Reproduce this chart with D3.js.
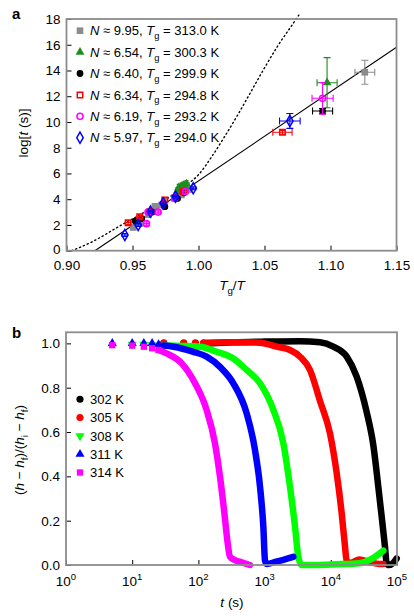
<!DOCTYPE html>
<html><head><meta charset="utf-8">
<script src="https://cdn.jsdelivr.net/npm/d3@7"></script>
<style>body{margin:0;background:#fff}svg{display:block;font-family:"Liberation Sans",Arial,sans-serif}</style>
</head><body><svg id="c" width="414" height="616"></svg>
<script>
// ---------- Panel a data ----------
const aXTicks = [0.90, 0.95, 1.00, 1.05, 1.10, 1.15];
const aYTicks = [0, 2, 4, 6, 8, 10, 12, 14, 16, 18];
const nValues = ["9.95", "6.54", "6.40", "6.34", "6.19", "5.97"];
const tgValues = ["313.0", "300.3", "299.9", "294.8", "293.2", "294.0"];
const colorsA = ["#8c8c8c", "#1e8c1e", "#000000", "#ff0000", "#ff00ff", "#0000ff"];

const grayX  = [0.9505, 0.9555, 0.962, 0.967, 0.972, 0.9833, 0.987, 0.9934, 1.126];
const grayY  = [1.8, 2.1, 2.8, 3.45, 3.55, 4.2, 4.33, 4.75, 13.86];
const grayXe = [0.002, 0.002, 0.002, 0.002, 0.002, 0.002, 0.002, 0.002, 0.0075];
const grayYe = [0.15, 0.15, 0.15, 0.15, 0.15, 0.15, 0.15, 0.15, 0.93];

const greenX  = [0.984, 0.985, 0.986, 0.987, 0.988, 0.989, 0.990, 0.991, 1.0974];
const greenY  = [4.65, 4.9, 4.7, 5.0, 4.8, 5.1, 4.95, 5.2, 13.05];
const greenXe = [0.001, 0.001, 0.001, 0.001, 0.001, 0.001, 0.001, 0.001, 0.0076];
const greenYe = [0.25, 0.25, 0.25, 0.25, 0.25, 0.25, 0.25, 0.25, 1.95];

const blackX  = [0.952, 0.957, 0.965, 0.9745, 0.984, 0.989, 1.094];
const blackY  = [2.3, 2.5, 3.0, 3.42, 4.05, 4.5, 10.85];
const blackXe = [0.002, 0.002, 0.002, 0.002, 0.002, 0.002, 0.0076];
const blackYe = [0.15, 0.15, 0.15, 0.15, 0.15, 0.15, 0.2];

const redX  = [0.9467, 0.9555, 0.9632, 0.9745, 0.982, 0.9884, 1.0636];
const redY  = [2.18, 2.64, 3.03, 3.94, 4.1, 4.58, 9.2];
const redXe = [0.002, 0.002, 0.002, 0.002, 0.002, 0.002, 0.0073];
const redYe = [0.15, 0.15, 0.15, 0.15, 0.15, 0.15, 0.15];

const magX  = [0.9606, 0.9618, 0.9694, 0.982, 0.990, 1.094];
const magY  = [2.1, 3.0, 3.0, 4.07, 4.6, 11.84];
const magXe = [0.002, 0.002, 0.002, 0.002, 0.002, 0.008];
const magYe = [0.15, 0.15, 0.15, 0.15, 0.15, 1.23];

const blueX  = [0.9442, 0.9543, 0.9636, 0.9732, 0.9826, 0.996, 1.0692];
const blueY  = [1.22, 2.0, 3.03, 3.68, 4.2, 4.85, 10.08];
const blueXe = [0.002, 0.002, 0.002, 0.002, 0.002, 0.002, 0.0078];
const blueYe = [0.12, 0.12, 0.12, 0.12, 0.12, 0.12, 0.58];

const fitX = [0.9215, 1.15];
const fitY = [0, 15.8];
const dotX = [0.904, 0.92, 0.94, 0.96, 0.98, 0.99, 1.00, 1.01, 1.02, 1.03, 1.04, 1.05, 1.06, 1.07, 1.076];
const dotY = [0, 0.72, 1.9, 3.05, 4.3, 5.05, 5.9, 7.3, 8.9, 10.6, 12.4, 14.2, 15.9, 17.4, 18.3];

// ---------- Panel b data ----------
const bXExponents = [0, 1, 2, 3, 4, 5];
const bYTicks = [0.0, 0.2, 0.4, 0.6, 0.8, 1.0];
const bLabels = ["302 K", "305 K", "308 K", "311 K", "314 K"];
const colorsB = ["#000000", "#ff0000", "#00ff00", "#0000ff", "#ff00ff"];

const k302MarkT = [30, 60, 90, 120];
const k302MarkV = [1.0, 1.0, 1.0, 1.0];
const k302T = [130, 337, 1000, 3430, 6870, 10900, 17400, 24600, 34800, 43900, 52200, 58700, 65800, 69700, 75000, 88000, 99000];
const k302V = [1.0, 1.005, 1.008, 1.01, 1.005, 0.985, 0.94, 0.85, 0.69, 0.54, 0.353, 0.218, 0.083, 0.008, 0.0, 0.01, 0.03];

const k305MarkT = [30, 60, 90, 120];
const k305MarkV = [1.003, 1.003, 1.003, 1.003];
const k305T = [130, 337, 853, 1523, 2420, 3430, 4850, 6870, 9720, 12280, 14600, 16400, 17400, 20000, 27000, 40000, 54200, 62000];
const k305V = [1.003, 1.005, 1.003, 0.985, 0.97, 0.94, 0.88, 0.74, 0.594, 0.414, 0.234, 0.083, 0.015, 0.01, 0.025, 0.012, 0.005, 0.005];

const k308MarkT = [10, 15, 20, 25];
const k308MarkV = [0.995, 0.995, 0.993, 0.99];
const k308T = [30, 106, 189, 337, 536, 853, 1355, 1920, 2420, 2880, 3235, 3630, 6000, 12000, 27000, 40000, 62100];
const k308V = [0.99, 0.985, 0.962, 0.932, 0.88, 0.82, 0.70, 0.549, 0.353, 0.173, 0.037, 0.0, 0.0, 0.003, 0.008, 0.025, 0.065];

const k311MarkT = [5, 10, 15, 20, 25];
const k311MarkV = [1.0, 1.0, 1.0, 1.0, 0.995];
const k311T = [30, 42, 84, 133, 212, 337, 536, 716, 853, 957, 1014, 1070, 1500, 2716];
const k311V = [0.99, 0.985, 0.962, 0.94, 0.894, 0.82, 0.684, 0.519, 0.353, 0.173, 0.02, 0.005, 0.015, 0.037];

const k314MarkT = [5, 10, 15, 20, 25];
const k314MarkV = [0.992, 0.99, 0.985, 0.978, 0.97];
const k314T = [25, 33, 56, 89, 133, 178, 212, 244, 277, 300, 357, 450, 600];
const k314V = [0.97, 0.955, 0.91, 0.82, 0.70, 0.549, 0.398, 0.248, 0.098, 0.037, 0.022, 0.012, 0.0];

// ---------- drawing ----------
const svg = d3.select("#c");
const FRAME = "#8c8c8c";

function richText(g, x, y, parts, size, anchor) {
  const t = g.append("text").attr("x", x).attr("y", y).attr("font-size", size)
    .attr("text-anchor", anchor || "start").attr("fill", "#000");
  let shifted = 0;
  parts.forEach(p => {
    const ts = t.append("tspan").text(p.t);
    if (p.i) ts.attr("font-style", "italic");
    if (p.sub) { ts.attr("dy", size * 0.3 - shifted).attr("font-size", size * 0.72); shifted = size * 0.3; }
    else if (p.sup) { ts.attr("dy", -size * 0.4 - shifted).attr("font-size", size * 0.72); shifted = -size * 0.4; }
    else if (shifted !== 0) { ts.attr("dy", -shifted); shifted = 0; }
  });
  return t;
}

// ======== Panel a ========
const xA = d3.scaleLinear().domain([0.90, 1.15]).range([66.5, 396.5]);
const yA = d3.scaleLinear().domain([0, 18]).range([250.7, 19]);
const gA = svg.append("g");

gA.append("g").attr("transform", "translate(0,250.7)")
  .call(d3.axisBottom(xA).tickValues(aXTicks).tickFormat(d3.format(".2f")).tickSizeInner(-5).tickSizeOuter(0).tickPadding(10))
  .call(g => { g.select(".domain").remove(); g.selectAll("line").attr("stroke", "#000");
    g.selectAll("text").attr("font-size", 13.5).attr("font-family", null); });
gA.append("g").attr("transform", "translate(66.5,0)")
  .call(d3.axisLeft(yA).tickValues(aYTicks).tickSizeInner(-5).tickSizeOuter(0).tickPadding(6))
  .call(g => { g.select(".domain").remove(); g.selectAll("line").attr("stroke", "#000");
    g.selectAll("text").attr("font-size", 13.5).attr("font-family", null)
      .attr("dy", d => d === 0 ? "0.2em" : "0.32em"); });

const plotA = gA.append("g");
// fit line and dotted curve
const lineA = d3.line().x(d => xA(d[0])).y(d => yA(d[1]));
plotA.append("path").attr("d", lineA(d3.zip(fitX, fitY))).attr("fill", "none").attr("stroke", "#000").attr("stroke-width", 1.1);
plotA.append("path").attr("d", lineA.curve(d3.curveMonotoneX)(d3.zip(dotX, dotY)))
  .attr("fill", "none").attr("stroke", "#000").attr("stroke-width", 1.4).attr("stroke-dasharray", "1.2,3").attr("stroke-linecap", "round");

const seriesA = [
  { x: grayX, y: grayY, xe: grayXe, ye: grayYe, sym: d3.symbolSquare, size: 44, fill: true },
  { x: greenX, y: greenY, xe: greenXe, ye: greenYe, sym: d3.symbolTriangle, size: 34, fill: true },
  { x: blackX, y: blackY, xe: blackXe, ye: blackYe, sym: d3.symbolCircle, size: 36, fill: true },
  { x: redX, y: redY, xe: redXe, ye: redYe, sym: d3.symbolSquare, size: 30, fill: false },
  { x: magX, y: magY, xe: magXe, ye: magYe, sym: d3.symbolCircle, size: 30, fill: false },
  { x: blueX, y: blueY, xe: blueXe, ye: blueYe, sym: d3.symbolDiamond, size: 36, fill: false }
];
seriesA.forEach((s, si) => {
  const c = colorsA[si];
  const g = plotA.append("g");
  s.x.forEach((xv, i) => {
    const px = xA(xv), py = yA(s.y[i]);
    const x0 = xA(xv - s.xe[i]), x1 = xA(xv + s.xe[i]);
    const y0 = yA(s.y[i] - s.ye[i]), y1 = yA(s.y[i] + s.ye[i]);
    const cap = s.xe[i] > 0.004 ? 3.5 : 2;
    g.append("path").attr("fill", "none").attr("stroke", c).attr("stroke-width", 1.1)
      .attr("d", `M${x0},${py}H${x1}M${x0},${py - cap}V${py + cap}M${x1},${py - cap}V${py + cap}` +
                 `M${px},${y0}V${y1}M${px - cap},${y0}H${px + cap}M${px - cap},${y1}H${px + cap}`);
    g.append("path").attr("transform", `translate(${px},${py})`)
      .attr("d", d3.symbol(s.sym, s.size)())
      .attr("fill", s.fill ? c : "none").attr("stroke", c).attr("stroke-width", s.fill ? 0 : 1.5);
  });
});

// legend a
const legA = gA.append("g");
const legAY = [30.7, 52.1, 73.5, 94.9, 116.3, 137.7];
seriesA.forEach((s, i) => {
  const c = colorsA[i];
  legA.append("path").attr("transform", `translate(80,${legAY[i]})`)
    .attr("d", d3.symbol(s.sym, s.size)())
    .attr("fill", s.fill ? c : "none").attr("stroke", c).attr("stroke-width", s.fill ? 0 : 1.5);
  richText(legA, 90, legAY[i] + 4.6, [
    { t: "N", i: true }, { t: " ≈ " + nValues[i] + ", " }, { t: "T", i: true }, { t: "g", sub: true },
    { t: " = " + tgValues[i] + " K" }], 13);
});

// frame a
gA.append("rect").attr("x", 66.5).attr("y", 19).attr("width", 330).attr("height", 231.7)
  .attr("fill", "none").attr("stroke", FRAME).attr("stroke-width", 1.8);

// labels a
svg.append("text").attr("x", 12).attr("y", 19).attr("font-size", 15).attr("font-weight", "bold").text("a");
richText(svg, 0, 0, [{ t: "log[" }, { t: "t", i: true }, { t: " (s)]" }], 13.5, "middle")
  .attr("transform", "translate(28,133) rotate(-90)");
richText(svg, 232, 290, [{ t: "T", i: true }, { t: "g", sub: true }, { t: "/" }, { t: "T", i: true }], 13.5, "middle");

// ======== Panel b ========
const xB = d3.scaleLog().domain([1, 1e5]).range([66, 397]);
const yB = d3.scaleLinear().domain([0, 1.05]).range([565, 332.3]);
const gB = svg.append("g");

gB.append("g").attr("transform", "translate(0,565)")
  .call(d3.axisBottom(xB).tickValues(bXExponents.map(e => Math.pow(10, e))).tickFormat("").tickSizeInner(-5).tickSizeOuter(0))
  .call(g => { g.select(".domain").remove(); g.selectAll("line").attr("stroke", "#000"); });
bXExponents.forEach(e => {
  const t = gB.append("text").attr("x", xB(Math.pow(10, e))).attr("y", 586).attr("font-size", 13.5).attr("text-anchor", "middle");
  t.append("tspan").text("10");
  t.append("tspan").text(String(e)).attr("font-size", 9.5).attr("dy", -6);
});
gB.append("g").attr("transform", "translate(66,0)")
  .call(d3.axisLeft(yB).tickValues(bYTicks).tickFormat(d3.format(".1f")).tickSizeInner(-5).tickSizeOuter(0).tickPadding(6))
  .call(g => { g.select(".domain").remove(); g.selectAll("line").attr("stroke", "#000");
    g.selectAll("text").attr("font-size", 13.5).attr("font-family", null); });

const seriesB = [
  { mt: k302MarkT, mv: k302MarkV, t: k302T, v: k302V, sym: d3.symbolCircle, size: 40, rot: 0 },
  { mt: k305MarkT, mv: k305MarkV, t: k305T, v: k305V, sym: d3.symbolCircle, size: 40, rot: 0 },
  { mt: k308MarkT, mv: k308MarkV, t: k308T, v: k308V, sym: d3.symbolTriangle, size: 36, rot: 180 },
  { mt: k311MarkT, mv: k311MarkV, t: k311T, v: k311V, sym: d3.symbolTriangle, size: 36, rot: 0 },
  { mt: k314MarkT, mv: k314MarkV, t: k314T, v: k314V, sym: d3.symbolSquare, size: 40, rot: 0 }
];
const lineB = d3.line().x(d => xB(d[0])).y(d => yB(d[1])).curve(d3.curveMonotoneX);
const plotB = gB.append("g");
seriesB.forEach((s, i) => {
  const c = colorsB[i];
  plotB.append("path").attr("d", lineB(d3.zip(s.t, s.v))).attr("fill", "none").attr("stroke", c)
    .attr("stroke-width", 6.5).attr("stroke-linejoin", "round").attr("stroke-linecap", "round");
  s.mt.forEach((tv, j) => {
    plotB.append("path").attr("transform", `translate(${xB(tv)},${yB(s.mv[j])}) rotate(${s.rot})`)
      .attr("d", d3.symbol(s.sym, s.size)()).attr("fill", c);
  });
});

// legend b
const legBY = [399.3, 417.6, 435.9, 454.2, 472.5];
seriesB.forEach((s, i) => {
  gB.append("path").attr("transform", `translate(80,${legBY[i]}) rotate(${s.rot})`)
    .attr("d", d3.symbol(s.sym, s.size)()).attr("fill", colorsB[i]);
  gB.append("text").attr("x", 90).attr("y", legBY[i] + 4.6).attr("font-size", 13).text(bLabels[i]);
});

gB.append("rect").attr("x", 66).attr("y", 332.3).attr("width", 331).attr("height", 232.7)
  .attr("fill", "none").attr("stroke", FRAME).attr("stroke-width", 1.8);

svg.append("text").attr("x", 12).attr("y", 338).attr("font-size", 15).attr("font-weight", "bold").text("b");
richText(svg, 0, 0, [{ t: "(" }, { t: "h", i: true }, { t: " − " }, { t: "h", i: true }, { t: "f", sub: true },
  { t: ")/(" }, { t: "h", i: true }, { t: "i", sub: true }, { t: " − " }, { t: "h", i: true }, { t: "f", sub: true }, { t: ")" }],
  13.5, "middle").attr("transform", "translate(24,450) rotate(-90)");
richText(svg, 232, 607, [{ t: "t", i: true }, { t: " (s)" }], 13.5, "middle");
</script></body></html>
